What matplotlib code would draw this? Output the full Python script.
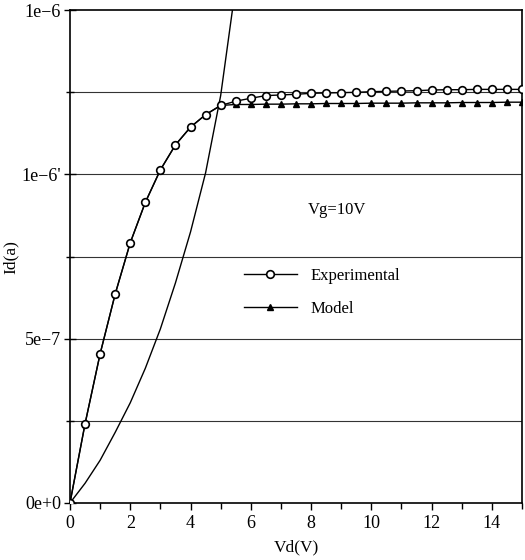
import matplotlib
matplotlib.use("Agg")
import matplotlib.pyplot as plt
from matplotlib.ticker import MultipleLocator, FixedLocator, FixedFormatter

# Drain voltage (V) sample points
vd = [0.0, 0.5, 1.0, 1.5, 2.0, 2.5, 3.0, 3.5, 4.0, 4.5, 5.0, 5.5, 6.0, 6.5, 7.0,
      7.5, 8.0, 8.5, 9.0, 9.5, 10.0, 10.5, 11.0, 11.5, 12.0, 12.5, 13.0, 13.5,
      14.0, 14.5, 15.0]

# Measured drain current (A)
id_exp = [0.0, 2.41e-7, 4.54e-7, 6.36e-7, 7.92e-7, 9.15e-7, 10.14e-7, 10.90e-7,
          11.44e-7, 11.82e-7, 12.10e-7, 12.23e-7, 12.32e-7, 12.40e-7, 12.42e-7,
          12.44e-7, 12.47e-7, 12.48e-7, 12.49e-7, 12.50e-7, 12.52e-7, 12.53e-7,
          12.54e-7, 12.55e-7, 12.57e-7, 12.58e-7, 12.58e-7, 12.59e-7, 12.59e-7,
          12.59e-7, 12.59e-7]

# Model drain current (A)
id_model = [0.0, 2.41e-7, 4.54e-7, 6.36e-7, 7.92e-7, 9.15e-7, 10.14e-7, 10.90e-7,
            11.44e-7, 11.82e-7, 12.10e-7, 12.13e-7, 12.13e-7, 12.14e-7, 12.14e-7,
            12.15e-7, 12.15e-7, 12.16e-7, 12.16e-7, 12.16e-7, 12.17e-7, 12.17e-7,
            12.17e-7, 12.18e-7, 12.18e-7, 12.18e-7, 12.19e-7, 12.19e-7, 12.19e-7,
            12.20e-7, 12.20e-7]

# Square-law reference curve (no markers)
vd_sq = [0.0, 0.5, 1.0, 1.5, 2.0, 2.5, 3.0, 3.5, 4.0, 4.5, 5.0, 5.45]
id_sq = [0.0, 0.6e-7, 1.3e-7, 2.15e-7, 3.05e-7, 4.1e-7, 5.3e-7, 6.7e-7,
         8.25e-7, 10.05e-7, 12.4e-7, 15.4e-7]

ytick_vals = [0.0, 5e-7, 1e-6, 1.5e-6]
ytick_text = ["0e+0", "5e\u22127", "1e\u22126'", "1e\u22126"]
xtick_vals = [0, 2, 4, 6, 8, 10, 12, 14]

plt.rcParams["font.family"] = ["Liberation Serif", "DejaVu Serif"]

fig = plt.figure(figsize=(5.25, 5.6), dpi=100)
ax = fig.add_axes([0.1333, 0.1018, 0.8610, 0.8800])

ax.set_xlim(0, 15)
ax.set_ylim(0, 1.5e-6)

# horizontal grid every 2.5e-7
for g in [2.5e-7, 5e-7, 7.5e-7, 1e-6, 1.25e-6]:
    ax.axhline(g, color="#333333", lw=0.8, zorder=1)

ax.plot(vd_sq, id_sq, color="black", lw=1.0, zorder=2, clip_on=True)
ax.plot(vd, id_model, color="black", lw=1.0, marker="^", ms=4.5,
        mfc="black", mec="black", label="Model", zorder=3)
ax.plot(vd, id_exp, color="black", lw=1.0, marker="o", ms=5.5,
        mfc="white", mec="black", mew=1.2, label="Experimental", zorder=4)

ax.xaxis.set_major_locator(FixedLocator(xtick_vals))
ax.xaxis.set_minor_locator(MultipleLocator(1))
ax.yaxis.set_major_locator(FixedLocator(ytick_vals))
ax.yaxis.set_major_formatter(FixedFormatter(ytick_text))
ax.yaxis.set_minor_locator(MultipleLocator(2.5e-7))

ax.tick_params(axis="x", which="major", direction="out", length=5, width=1,
               labelsize=13, pad=4)
ax.tick_params(axis="x", which="minor", direction="out", length=4, width=1)
ax.tick_params(axis="y", which="major", direction="inout", length=9, width=1,
               labelsize=13, pad=2)
ax.tick_params(axis="y", which="minor", direction="inout", length=6, width=1)

for s in ax.spines.values():
    s.set_linewidth(1.2)

ax.set_xlabel("Vd(V)", fontsize=12.5, labelpad=5)
ax.set_ylabel("Id(a)", fontsize=12.5, labelpad=2)

ax.text(7.9, 8.93e-7, "Vg=10V", fontsize=12, va="center", ha="left")

handles, labels = ax.get_legend_handles_labels()
ax.legend(handles[::-1], labels[::-1], loc="upper left",
          bbox_to_anchor=(0.351, 0.507), frameon=False, fontsize=12,
          handlelength=3.2, handletextpad=0.8, labelspacing=1.0)

fig.savefig("out.png", dpi=100)
